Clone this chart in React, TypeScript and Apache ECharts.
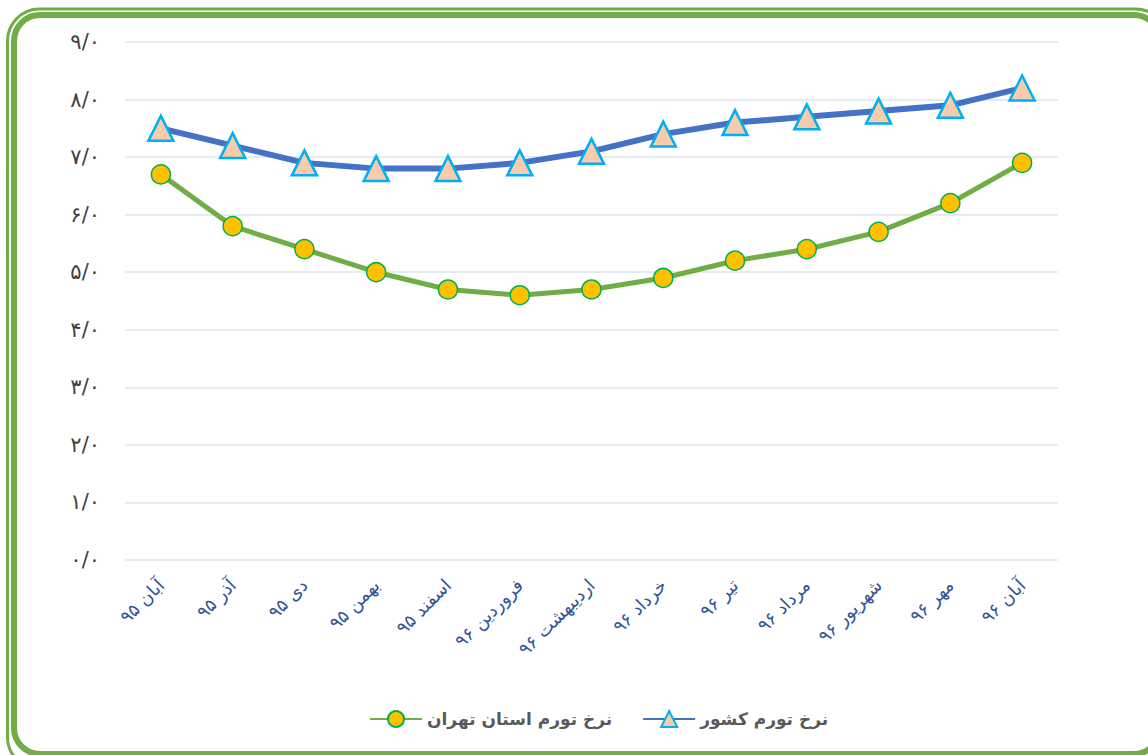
import React, { useEffect, useRef } from "react";
import * as echarts from "echarts";

const categories = [
  "آبان ۹۵",
  "آذر ۹۵",
  "دی ۹۵",
  "بهمن ۹۵",
  "اسفند ۹۵",
  "فروردین ۹۶",
  "اردیبهشت ۹۶",
  "خرداد ۹۶",
  "تیر ۹۶",
  "مرداد ۹۶",
  "شهریور ۹۶",
  "مهر ۹۶",
  "آبان ۹۶",
];

const countryName = "نرخ تورم کشور";
const tehranName = "نرخ تورم استان تهران";

const countryValues = [7.5, 7.2, 6.9, 6.8, 6.8, 6.9, 7.1, 7.4, 7.6, 7.7, 7.8, 7.9, 8.2];
const tehranValues = [6.7, 5.8, 5.4, 5.0, 4.7, 4.6, 4.7, 4.9, 5.2, 5.4, 5.7, 6.2, 6.9];

const yTicks = [0, 1, 2, 3, 4, 5, 6, 7, 8, 9];

const persianDigits = ["۰", "۱", "۲", "۳", "۴", "۵", "۶", "۷", "۸", "۹"];
const toPersian = (n: number) =>
  String(n)
    .split("")
    .map((c) => (c >= "0" && c <= "9" ? persianDigits[Number(c)] : c))
    .join("");

export default function App() {
  const ref = useRef<HTMLDivElement>(null);

  useEffect(() => {
    document.body.style.margin = "0";
    if (!ref.current) return;
    const chart = echarts.init(ref.current, undefined, { renderer: "svg" });
    chart.setOption({
      animation: false,
      backgroundColor: "#ffffff",
      graphic: [
        {
          type: "rect",
          shape: { x: 7.5, y: 9, width: 1160, height: 760, r: 32 },
          style: { fill: "none", stroke: "#70AD47", lineWidth: 3 },
          silent: true,
        },
        {
          type: "rect",
          shape: { x: 14, y: 15, width: 1146, height: 739, r: 26 },
          style: { fill: "none", stroke: "#70AD47", lineWidth: 6 },
          silent: true,
        },
      ],
      grid: { left: 125, right: 90, top: 42, bottom: 195, containLabel: false },
      legend: {
        bottom: 22,
        left: 364,
        itemWidth: 52,
        itemHeight: 20,
        itemGap: 30,
        data: [tehranName, countryName],
        textStyle: {
          color: "#595959",
          fontSize: 17,
          fontWeight: "bold",
          fontFamily: "DejaVu Sans",
        },
      },
      xAxis: {
        type: "category",
        data: categories,
        boundaryGap: true,
        axisLine: { show: false },
        axisTick: { show: false },
        axisLabel: {
          rotate: 45,
          margin: 22,
          color: "#2F5597",
          fontSize: 18,
          fontFamily: "DejaVu Sans",
          interval: 0,
        },
      },
      yAxis: {
        type: "value",
        min: 0,
        max: 9,
        interval: 1,
        axisLine: { show: false },
        axisTick: { show: false },
        splitLine: { lineStyle: { color: "#DCE5F2", width: 1.5 } },
        axisLabel: {
          margin: 25,
          color: "#404040",
          fontSize: 21,
          fontFamily: "DejaVu Sans",
          formatter: (v: number) => (yTicks.includes(v) ? toPersian(v) + "/۰" : ""),
        },
      },
      series: [
        {
          name: tehranName,
          type: "line",
          data: tehranValues,
          symbol: "circle",
          symbolSize: 19,
          lineStyle: { color: "#70AD47", width: 5 },
          itemStyle: { color: "#FFC000", borderColor: "#00B050", borderWidth: 1.5 },
          z: 3,
        },
        {
          name: countryName,
          type: "line",
          data: countryValues,
          symbol: "triangle",
          symbolSize: [25, 25],
          lineStyle: { color: "#4472C4", width: 6 },
          itemStyle: { color: "#F8CBAD", borderColor: "#00B0F0", borderWidth: 2.5 },
          z: 4,
        },
      ],
    });
    return () => chart.dispose();
  }, []);

  return <div ref={ref} style={{ width: 1148, height: 755 }} />;
}
